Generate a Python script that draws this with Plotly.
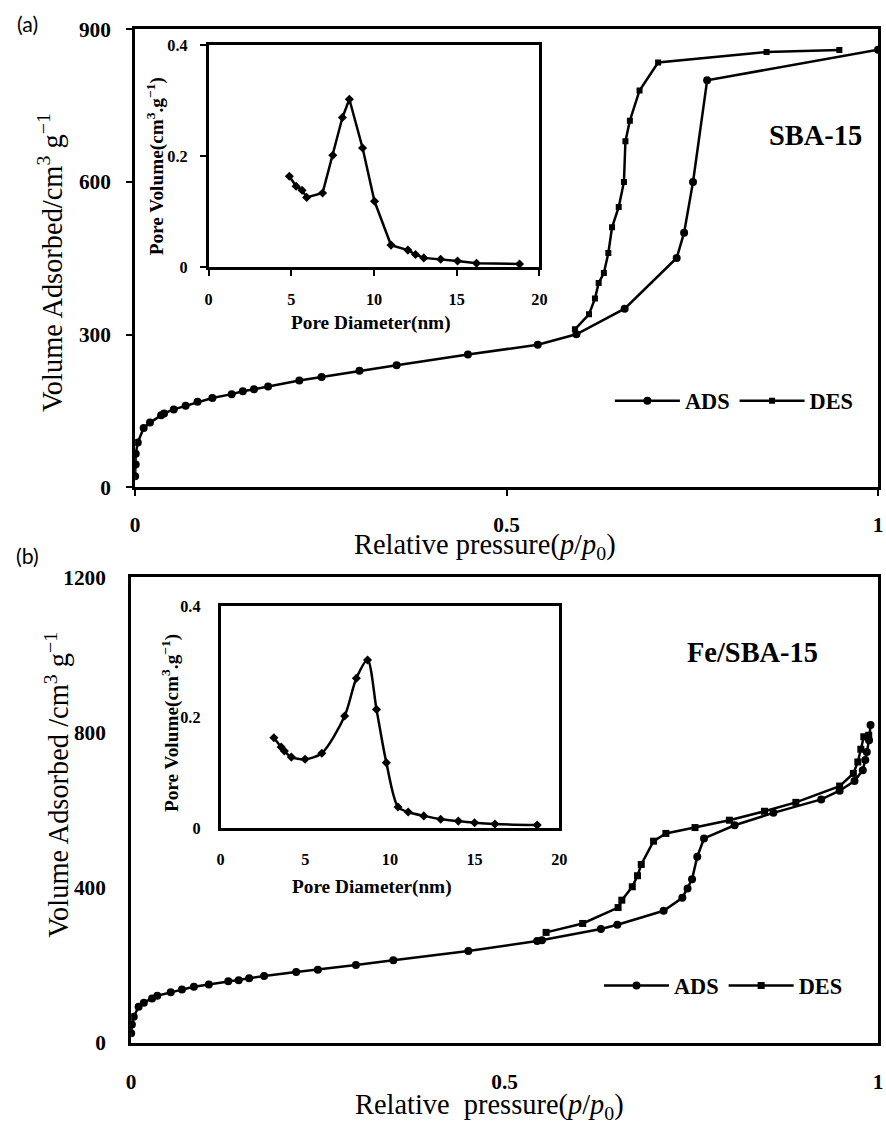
import plotly.graph_objects as go

# ---------------- data: panel (a) SBA-15 ----------------
a_ads_p = [0.0, 0.0008, 0.0008, 0.0036, 0.0115, 0.020, 0.035, 0.039, 0.052, 0.068, 0.084,
           0.104, 0.130, 0.145, 0.160, 0.179, 0.221, 0.251, 0.302, 0.352, 0.448, 0.542,
           0.594, 0.659, 0.729, 0.739, 0.751, 0.770, 1.0]
a_ads_v = [21.6, 44.6, 66, 88, 116.5, 127, 141.5, 145, 153, 160, 168,
           175.5, 183, 188.6, 192.6, 198, 209.6, 216.8, 229, 240, 261, 280,
           300.6, 351, 450.6, 500.4, 600, 800, 860]
a_des_p = [0.592, 0.611, 0.619, 0.624, 0.631, 0.637, 0.642, 0.651, 0.658, 0.660, 0.666,
           0.679, 0.704, 0.850, 0.948]
a_des_v = [310.5, 340, 370.8, 401.5, 421, 460.4, 511, 551, 600, 680, 720.6,
           780, 835, 855.5, 859.5]
a_pore_d = [4.88, 5.29, 5.65, 5.93, 6.89, 7.51, 8.09, 8.51, 9.31, 10.03, 11.03, 12.05,
            12.51, 13.01, 14.03, 15.05, 16.2, 18.8]
a_pore_v = [0.164, 0.146, 0.139, 0.126, 0.134, 0.202, 0.270, 0.303, 0.215, 0.119, 0.040,
            0.031, 0.023, 0.017, 0.0144, 0.0114, 0.0072, 0.006]

# ---------------- data: panel (b) Fe/SBA-15 ----------------
b_ads_p = [0.0, 0.001, 0.0035, 0.010, 0.017, 0.028, 0.035, 0.053, 0.068, 0.084, 0.104,
           0.130, 0.144, 0.158, 0.178, 0.221, 0.250, 0.301, 0.351, 0.4515, 0.5436, 0.550,
           0.629, 0.651, 0.713, 0.738, 0.745, 0.751, 0.758, 0.767, 0.808, 0.860, 0.924,
           0.9486, 0.9685, 0.9796, 0.983, 0.985, 0.988, 0.990]
b_ads_v = [25, 48, 68, 93.5, 104, 115, 122, 130.5, 138, 145, 151,
           159, 162, 167, 172.5, 183, 189, 201, 213, 237, 262.7, 265,
           293.6, 304.7, 340.7, 374, 398, 422, 480, 527, 561, 593, 627.5,
           650, 675, 703, 729, 750, 780, 819]
b_des_p = [0.5556, 0.6046, 0.652, 0.657, 0.671, 0.678, 0.683, 0.6995, 0.716, 0.755,
           0.801, 0.848, 0.890, 0.9486, 0.967, 0.973, 0.977, 0.981, 0.9876]
b_des_v = [285, 308, 349, 368, 402.5, 431, 460, 520, 540, 555,
           574, 597, 620, 662, 694.5, 724, 757, 789, 793]
b_pore_d = [3.15, 3.58, 3.77, 4.18, 4.99, 5.98, 7.33, 8.02, 8.68, 9.21, 9.79, 10.48,
            11.08, 12.0, 13.0, 14.04, 15.0, 16.2, 18.7]
b_pore_v = [0.163, 0.146, 0.139, 0.128, 0.124, 0.135, 0.202, 0.270, 0.303, 0.214, 0.118,
            0.038, 0.029, 0.022, 0.016, 0.0126, 0.0096, 0.0072, 0.0054]

main_x_ticks = [0, 0.5, 1]
main_x_labels = ["0", "0.5", "1"]
a_y_ticks = [0, 300, 600, 900]
b_y_ticks = [0, 400, 800, 1200]
inset_x_ticks = [0, 5, 10, 15, 20]
inset_y_ticks = [0, 0.2, 0.4]

W, H = 886, 1124
SERIF = "Liberation Serif"
# layout calibration (target picture pixels -> page pixels)
SX, OX, SY, OY = 0.992, 2.0, 0.979, 11.6
FS = 1 / 0.985


def px(x):
    return min(1.0, max(0.0, ((x - OX) / SX) / W))


def py(y):
    return min(1.0, max(0.0, 1 - ((y - OY) / SY) / H))


fig = go.Figure()

LW = 2.5
fig.add_trace(go.Scatter(x=a_ads_p, y=a_ads_v, mode="lines+markers", name="ADS",
                         line=dict(color="black", width=LW),
                         marker=dict(symbol="circle", size=8, color="black"),
                         xaxis="x", yaxis="y", legend="legend"))
fig.add_trace(go.Scatter(x=a_des_p, y=a_des_v, mode="lines+markers", name="DES",
                         line=dict(color="black", width=LW),
                         marker=dict(symbol="square", size=6, color="black"),
                         xaxis="x", yaxis="y", legend="legend"))
fig.add_trace(go.Scatter(x=a_pore_d, y=a_pore_v, mode="lines+markers", showlegend=False,
                         line=dict(color="black", width=LW),
                         marker=dict(symbol="diamond", size=7, color="black"),
                         xaxis="x2", yaxis="y2"))
fig.add_trace(go.Scatter(x=b_ads_p, y=b_ads_v, mode="lines+markers", name="ADS",
                         line=dict(color="black", width=LW),
                         marker=dict(symbol="circle", size=8, color="black"),
                         xaxis="x3", yaxis="y3", legend="legend2"))
fig.add_trace(go.Scatter(x=b_des_p, y=b_des_v, mode="lines+markers", name="DES",
                         line=dict(color="black", width=LW),
                         marker=dict(symbol="square", size=7, color="black"),
                         xaxis="x3", yaxis="y3", legend="legend2"))
fig.add_trace(go.Scatter(x=b_pore_d, y=b_pore_v, mode="lines+markers", showlegend=False,
                         line=dict(color="black", width=LW, shape="spline", smoothing=0.8),
                         marker=dict(symbol="diamond", size=7, color="black"),
                         xaxis="x4", yaxis="y4"))

main_tick_font = dict(family=SERIF, size=21 * FS, color="black", weight="bold")
inset_tick_font = dict(family=SERIF, size=16 * FS, color="black", weight="bold")


def ax(domain, rng, tickvals, ticktext=None, font=None, ticks="", standoff=0, lw=3,
       anchor=None):
    d = dict(domain=domain, range=rng, tickvals=tickvals, showline=True, linecolor="black",
             linewidth=lw, mirror=True, showgrid=False, zeroline=False, ticks=ticks,
             ticklen=6, tickwidth=2, tickcolor="black", tickfont=font,
             ticklabelstandoff=standoff, anchor=anchor)
    if ticktext is not None:
        d["ticktext"] = ticktext
    return d


leg_font = dict(family=SERIF, size=22 * FS, color="black", weight="bold")
fig.update_layout(
    width=W, height=H, margin=dict(l=0, r=0, t=0, b=0),
    paper_bgcolor="white", plot_bgcolor="white",
    xaxis=ax([px(133), px(885)], [0, 1], main_x_ticks, main_x_labels, main_tick_font,
             "outside", 10, anchor="y"),
    yaxis=ax([py(487), py(29)], [0, 900], a_y_ticks, None, main_tick_font,
             "outside", 11, anchor="x"),
    xaxis2=ax([px(207), px(540)], [0, 20], inset_x_ticks, None, inset_tick_font,
              "outside", 9, lw=2.5, anchor="y2"),
    yaxis2=ax([py(267), py(45)], [0, 0.4], inset_y_ticks, ["0", "0.2", "0.4"],
              inset_tick_font, "outside", 9, lw=2.5, anchor="x2"),
    xaxis3=ax([px(129), px(882)], [0, 1], main_x_ticks, main_x_labels, main_tick_font,
              "", 17, anchor="y3"),
    yaxis3=ax([py(1043), py(577)], [0, 1200], b_y_ticks, None, main_tick_font,
              "", 18, anchor="x3"),
    xaxis4=ax([px(219), px(560)], [0, 20], inset_x_ticks, None, inset_tick_font,
              "", 15, lw=2.5, anchor="y4"),
    yaxis4=ax([py(828), py(606)], [0, 0.4], inset_y_ticks, ["0", "0.2", "0.4"],
              inset_tick_font, "", 14, lw=2.5, anchor="x4"),
    legend=dict(orientation="h", x=px(611), y=py(401), xanchor="left", yanchor="middle",
                font=leg_font, bgcolor="rgba(0,0,0,0)", itemwidth=65),
    legend2=dict(orientation="h", x=px(600), y=py(986), xanchor="left", yanchor="middle",
                 font=leg_font, bgcolor="rgba(0,0,0,0)", itemwidth=65),
)

ann = []
ylab = "Volume Adsorbed/cm<sup>3</sup> g<sup>\u22121</sup>"
ylab_b = "Volume Adsorbed /cm<sup>3</sup> g<sup>\u22121</sup>"
xlab = "Relative pressure(<i>p</i>/<i>p</i><sub>0</sub>)"
xlab_b = "Relative  pressure(<i>p</i>/<i>p</i><sub>0</sub>)"
inset_x = "<b>Pore Diameter(nm)</b>"
inset_y = "<b>Pore Volume(cm<sup>3</sup>.g<sup>\u22121</sup>)</b>"


def big():
    return dict(family=SERIF, size=28 * FS, color="black")


def small():
    return dict(family=SERIF, size=19 * FS, color="black")


def A(text, x, y, font, angle=0):
    ann.append(dict(text=text, x=px(x), y=py(y), xref="paper", yref="paper",
                    xanchor="center", yanchor="middle", showarrow=False,
                    font=font, textangle=angle))


A(ylab, 48, 262, big(), -90)
A(xlab, 485, 546, big())
A(ylab_b, 54, 785, big(), -90)
A(xlab_b, 490, 1106, big())
A(inset_x, 370, 323, small())
A(inset_y, 153, 166, small(), -90)
A(inset_x, 371, 887, small())
A(inset_y, 168, 723, small(), -90)
A("<b>SBA-15</b>", 818, 135, big())
A("<b>Fe/SBA-15</b>", 755, 652, big())
A("(a)", 25, 24, dict(family="Lato", size=21 * FS, color="black"))
A("(b)", 25, 556, dict(family="Lato", size=21 * FS, color="black"))
fig.update_layout(annotations=ann)

fig.write_html("out.html")
